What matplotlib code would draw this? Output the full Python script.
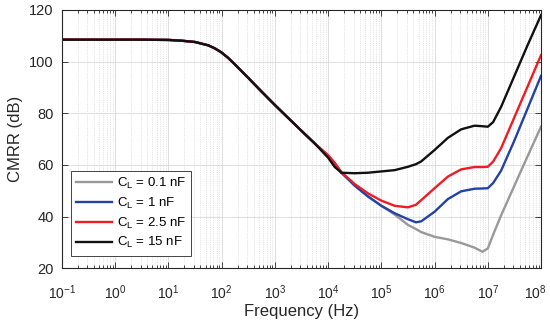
import numpy as np
import matplotlib
matplotlib.use('Agg')
import matplotlib.pyplot as plt
from matplotlib.ticker import NullFormatter, NullLocator, LogFormatterSciNotation
from matplotlib.transforms import ScaledTranslation

plt.rcParams['font.family'] = ['Liberation Sans', 'DejaVu Sans']
plt.rcParams['mathtext.fontset'] = 'custom'
plt.rcParams['mathtext.rm'] = 'Liberation Sans'
plt.rcParams['mathtext.it'] = 'Liberation Sans:italic'
plt.rcParams['mathtext.default'] = 'regular'

# frequency grid (log10 of Hz)
f_exp = [-1, -0.5, 0, 0.5, 1, 1.25, 1.5, 1.75, 1.875, 2, 2.125, 2.25, 2.375, 2.5, 2.75,
         3, 3.25, 3.5, 3.75, 4, 4.125, 4.25, 4.5, 4.75, 5, 5.25, 5.5, 5.65, 5.75, 6, 6.25,
         6.5, 6.75, 6.9, 7, 7.1, 7.25, 7.5, 7.75, 8]
common = [108.5, 108.5, 108.5, 108.5, 108.4, 108.1, 107.6, 106.3, 105.1, 103.5, 101.4,
          98.9, 96.3, 93.7, 88.4, 83.2, 78.2, 73.2, 68.3]

cmrr_01 = common + [63.5, 60.6, 57.0, 52.0, 47.8, 44.2, 40.8, 36.8, 35.2, 34.0, 32.2,
                    31.2, 29.8, 28.0, 26.4, 27.7, 33.0, 40.5, 52.0, 63.5, 74.8]
cmrr_1 = common + [63.5, 60.6, 57.0, 52.0, 47.8, 44.2, 41.3, 39.0, 37.8, 38.2, 41.9,
                   46.8, 49.8, 50.8, 50.9, 51.0, 53.0, 57.8, 69.5, 82.0, 94.5]
cmrr_25 = common + [63.8, 60.8, 57.2, 52.6, 49.0, 46.2, 44.2, 43.6, 44.6, 46.4, 51.0,
                    55.5, 58.3, 59.2, 59.2, 59.3, 61.3, 66.5, 78.5, 90.5, 102.5]
cmrr_15 = common + [62.8, 59.2, 57.0, 56.8, 57.0, 57.5, 58.0, 59.3, 60.3, 61.4, 65.8,
                    70.5, 73.8, 75.2, 75.0, 74.8, 76.6, 82.5, 94.5, 106.5, 118.0]

labels = [r'C$_{\rm L}$ = 0.1 nF', r'C$_{\rm L}$ = 1 nF',
          r'C$_{\rm L}$ = 2.5 nF', r'C$_{\rm L}$ = 15 nF']
colors = ['#999999', '#2342a8', '#ee1c25', '#111111']

decades = np.arange(-1, 9)
freq = 10.0 ** np.array(f_exp)

fig = plt.figure(figsize=(5.5, 3.27), dpi=100)
ax = fig.add_axes([0.1127, 0.1795, 0.871, 0.79])

for y, c, lab in zip([cmrr_01, cmrr_1, cmrr_25, cmrr_15], colors, labels):
    ax.plot(freq, y, color=c, lw=1.7, label=lab, solid_joinstyle='round')

ax.set_xscale('log')
ax.set_xticks(10.0 ** decades)
minors = [m * 10.0 ** d for d in decades[:-1] for m in range(2, 10)]
ax.set_xticks(minors, minor=True)
ax.xaxis.set_major_formatter(LogFormatterSciNotation())
ax.xaxis.set_minor_formatter(NullFormatter())
ax.set_xlim(1e-1, 1e8)
ax.set_ylim(20, 120)
ax.set_yticks([20, 40, 60, 80, 100, 120])
ax.yaxis.set_minor_locator(NullLocator())

ax.grid(True, which='major', color='#d9d9d9', lw=0.6, ls='-')
ax.grid(True, which='minor', axis='x', color='#cccccc', lw=0.5, ls=':')
ax.set_axisbelow(True)

for s in ax.spines.values():
    s.set_color('#262626')
    s.set_linewidth(0.8)
ax.tick_params(which='both', direction='in', top=True, right=True, colors='#262626',
               labelsize=10, width=0.6)
ax.tick_params(axis='y', labelsize=10.5)
ax.tick_params(which='major', length=4)
ax.tick_params(axis='x', which='major', pad=11)
ax.tick_params(axis='y', which='major', pad=6)
ax.tick_params(which='minor', length=2.2)

ax.set_xlabel('Frequency (Hz)', fontsize=12, color='#262626', labelpad=1)
ax.set_ylabel('CMRR (dB)', fontsize=12, color='#262626', labelpad=4)

leg = ax.legend(loc='lower left', bbox_to_anchor=(0.018, 0.049), borderaxespad=0,
                fontsize=9.5, handlelength=2.7, handletextpad=0.4, labelspacing=0.35,
                fancybox=False, framealpha=1, edgecolor='#262626', borderpad=0.4)
leg.get_frame().set_linewidth(0.6)

# keep the last decade label inside the figure, as in the original
fig.canvas.draw()
for tick in ax.xaxis.get_major_ticks():
    if np.isclose(tick.get_loc(), 1e8):
        tick.label1.set_transform(tick.label1.get_transform()
                                  + ScaledTranslation(-6 / 100, 0, fig.dpi_scale_trans))

fig.savefig('out.png', dpi=100)
